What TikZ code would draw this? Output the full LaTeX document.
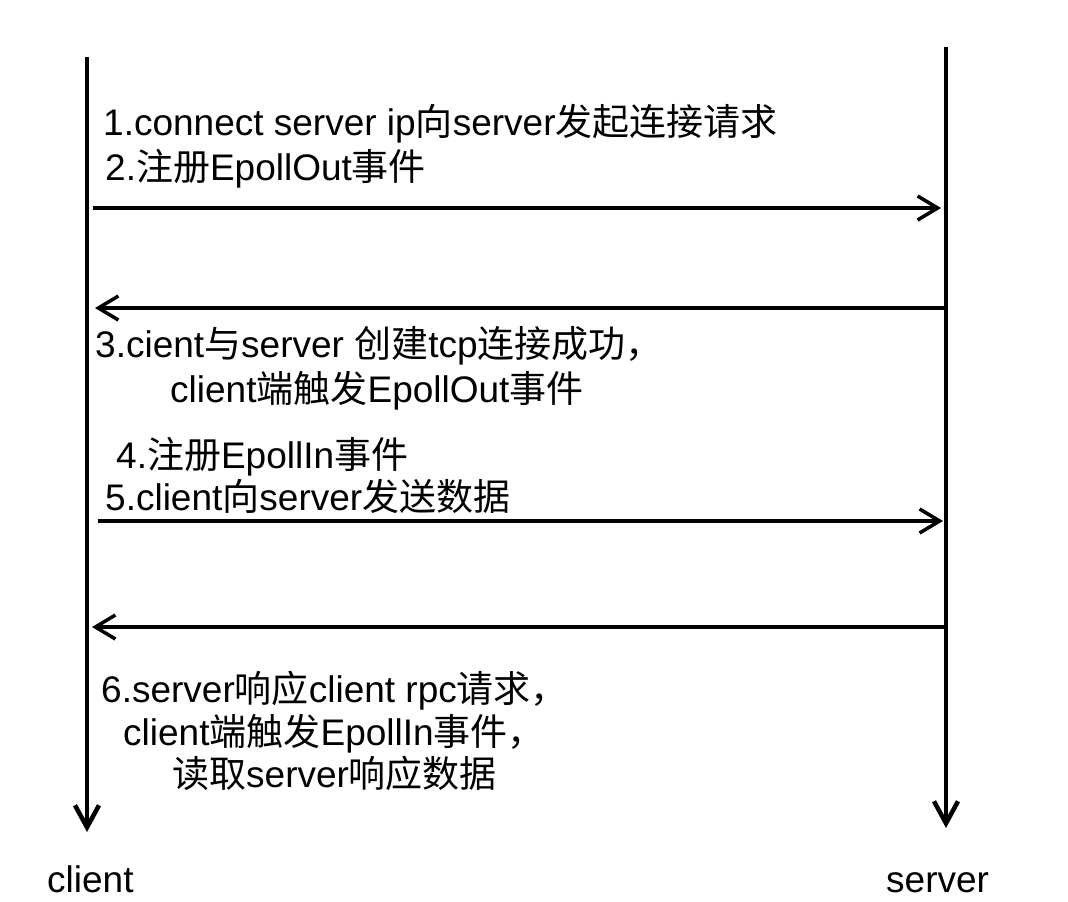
\documentclass[tikz,border=0pt]{standalone}
\usepackage{fontspec}
\setmainfont{Liberation Sans}
\newfontfamily\cjk{Noto Sans CJK SC}
\newcommand{\zh}[1]{{\cjk #1}}
\usetikzlibrary{arrows.meta, positioning}

\begin{document}
\begin{tikzpicture}[
  x=1pt, y=-1pt,
  lifeline/.style={line width=4.5pt, -{Straight Barb[length=22pt,width=24pt]}},
  msg/.style={line width=3.5pt, -{Straight Barb[length=20pt,width=24pt]}},
  txt/.style={anchor=base west, inner sep=0pt, font=\fontsize{37}{44}\selectfont}]

  \useasboundingbox (0,0) rectangle (1068,902);

  % lifelines
  \coordinate (ctop) at (87,57);
  \coordinate (cbot) at (87,832);
  \coordinate (stop) at (946,47);
  \coordinate (sbot) at (946,828);
  \draw[lifeline] (ctop) -- (cbot);
  \draw[lifeline] (stop) -- (sbot);

  \node[txt] (client) at (47,892) {client};
  \node[txt] (server) at (886,892) {server};

  % messages
  \coordinate (m1a) at (93,208);  \coordinate (m1b) at (941,208);
  \coordinate (m2a) at (946,308); \coordinate (m2b) at (95,308);
  \coordinate (m3a) at (98,521);  \coordinate (m3b) at (943,521);
  \coordinate (m4a) at (946,627); \coordinate (m4b) at (92,627);
  \draw[msg] (m1a) -- (m1b);
  \draw[msg] (m2a) -- (m2b);
  \draw[msg] (m3a) -- (m3b);
  \draw[msg] (m4a) -- (m4b);

  % labels
  \node[txt] (t1) at (103,135) {1.connect server ip\zh{向}server\zh{发起连接请求}};
  \node[txt] (t2) at (105,180) {2.\zh{注册}EpollOut\zh{事件}};
  \node[txt] (t3) at (95,357) {3.cient\zh{与}server \zh{创建}tcp\zh{连接成功，}};
  \node[txt] (t3b) at (170,402) {client\zh{端触发}EpollOut\zh{事件}};
  \node[txt] (t4) at (116,468) {4.\zh{注册}EpollIn\zh{事件}};
  \node[txt] (t5) at (105,510) {5.client\zh{向}server\zh{发送数据}};
  \node[txt] (t6) at (101,702) {6.server\zh{响应}client rpc\zh{请求，}};
  \node[txt] (t6b) at (123,745) {client\zh{端触发}EpollIn\zh{事件，}};
  \node[txt] (t6c) at (172,787) {\zh{读取}server\zh{响应数据}};
\end{tikzpicture}
\end{document}
